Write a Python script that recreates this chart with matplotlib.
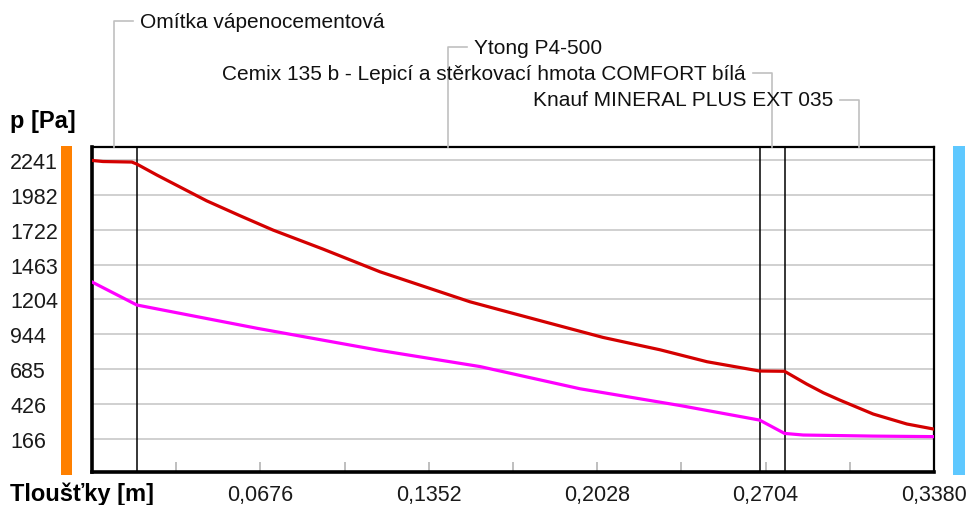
import matplotlib
matplotlib.use("Agg")
import matplotlib.pyplot as plt
from matplotlib.patches import Rectangle
from matplotlib.lines import Line2D

# Construction layers (interior -> exterior)
layer_names = [
    "Omítka vápenocementová",
    "Ytong P4-500",
    "Cemix 135 b - Lepicí a stěrkovací hmota COMFORT bílá",
    "Knauf MINERAL PLUS EXT 035",
]
layer_thickness = [0.018, 0.25, 0.01, 0.06]

# Saturated water vapour pressure [Pa]
psat_x = [0.0, 0.0044, 0.016, 0.018, 0.0261, 0.0460, 0.0594, 0.0727, 0.0927, 0.1156,
          0.1517, 0.1786, 0.2051, 0.2280, 0.2469, 0.268, 0.278, 0.2869,
          0.2936, 0.3003, 0.3136, 0.3271, 0.338]
psat_y = [2238, 2230, 2226, 2211, 2129, 1938, 1827, 1720, 1579, 1410,
          1187, 1053, 922, 830, 741, 672, 670, 575,
          510, 455, 352, 278, 240]

# Partial water vapour pressure [Pa]
pv_x = [0.0, 0.018, 0.0662, 0.1156, 0.1558, 0.1959, 0.2365, 0.268, 0.278,
        0.2855, 0.3135, 0.338]
pv_y = [1334, 1163, 990, 825, 705, 540, 414, 307, 208,
        196, 188, 184]

y_ticks = [166, 426, 685, 944, 1204, 1463, 1722, 1982, 2241]
x_ticks = [0.0338 * i for i in range(11)]
x_tick_labels = ["", "", "0,0676", "", "0,1352", "", "0,2028", "", "0,2704", "", "0,3380"]

W, H = 968, 506
fig = plt.figure(figsize=(W / 100, H / 100), dpi=100)
fig.patch.set_facecolor("white")
FONT = "Liberation Sans"


def fx(px):
    return px / W


def fy(py):
    return 1 - py / H


ax = fig.add_axes([fx(92), fy(473), fx(934) - fx(92), fy(148) - fy(473)])
ax.set_xlim(0, sum(layer_thickness))
ax.set_ylim(-79, 2338)

# horizontal grid
for v in y_ticks:
    ax.axhline(v, color="#c8c8c8", lw=1.2, zorder=1)

# layer boundaries
edges = []
acc = 0.0
for t in layer_thickness[:-1]:
    acc += t
    edges.append(acc)
for e in edges:
    ax.axvline(e, color="black", lw=1.1, zorder=2)

ax.plot(psat_x, psat_y, color="#d40000", lw=2.3, zorder=3, solid_joinstyle="miter")
ax.plot(pv_x, pv_y, color="#ff00ff", lw=2.3, zorder=3, solid_joinstyle="miter")

for side in ("left", "bottom"):
    ax.spines[side].set_linewidth(2.6)
for side in ("top", "right"):
    ax.spines[side].set_linewidth(1.6)

ax.set_yticks(y_ticks)
ax.set_yticklabels([str(v) for v in y_ticks], fontsize=15.5, family=FONT, color="#1a1a1a")
ax.tick_params(axis="y", length=0, pad=59)
for lab in ax.get_yticklabels():
    lab.set_horizontalalignment("left")

ax.set_xticks(x_ticks)
ax.set_xticklabels(x_tick_labels, fontsize=15.5, family=FONT, color="#1a1a1a")
ax.tick_params(axis="x", direction="in", length=7, width=1.2, color="#b4b4b4", pad=9)

# side colour bars (interior / exterior)
fig.add_artist(Rectangle((fx(61), fy(476)), fx(72) - fx(61), fy(147) - fy(476),
                         transform=fig.transFigure, color="#ff8000", lw=0))
fig.add_artist(Rectangle((fx(953), fy(476)), fx(965) - fx(953), fy(147) - fy(476),
                         transform=fig.transFigure, color="#5ec8ff", lw=0))

fig.text(fx(10), fy(122), "p [Pa]", fontsize=17, fontweight="bold", family=FONT,
         ha="left", va="center")
fig.text(fx(10), fy(494), "Tloušťky [m]", fontsize=17, fontweight="bold", family=FONT,
         ha="left", va="center")

# layer name labels with leader lines
label_rows = [22, 48, 74, 101]
label_sides = [1, 1, -1, -1]
fig.canvas.draw()
acc = 0.0
for name, t, row, side in zip(layer_names, layer_thickness, label_rows, label_sides):
    mid = acc + t / 2
    acc += t
    px = ax.transData.transform((mid, 0))[0]
    top = ax.transAxes.transform((0, 1))[1]
    yrow = (H - row)
    lead_end = px + side * 19
    fig.add_artist(Line2D([px / W, px / W, lead_end / W], [top / H, yrow / H, yrow / H],
                          transform=fig.transFigure, color="#c0c0c0", lw=1.2))
    tx = px + side * 26
    fig.text(tx / W, yrow / H, name, fontsize=15, family=FONT, color="#111111",
             ha="left" if side > 0 else "right", va="center")

fig.savefig("out.png", dpi=100)
